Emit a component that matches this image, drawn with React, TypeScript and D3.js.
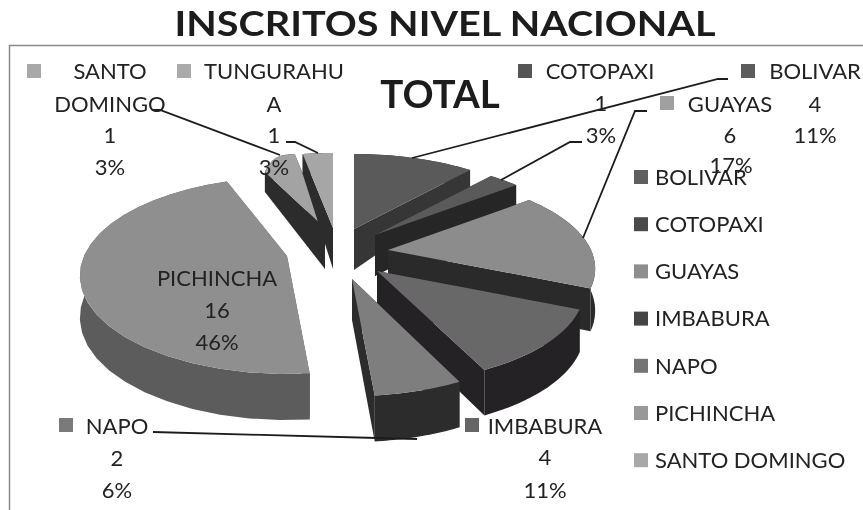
import React from "react";
import * as d3 from "d3";

const categories = ["BOLIVAR", "COTOPAXI", "GUAYAS", "IMBABURA", "NAPO", "PICHINCHA", "SANTO DOMINGO", "TUNGURAHUA"];
const values = [4, 1, 6, 4, 2, 16, 1, 1];
const percents = ["11%", "3%", "17%", "11%", "6%", "46%", "3%", "3%"];
const topColors = ["#5a5a5a", "#5a5a5a", "#8c8c8c", "#686868", "#7e7e7e", "#8f8f8f", "#a3a3a3", "#a6a6a6"];
const sideColors = ["#363636", "#262626", "#2a2a2a", "#252225", "#2c2c2c", "#5c5c5c", "#2c2c2c", "#2c2c2c"];
const legendColors = ["#5f5f5f", "#4a4a4a", "#8e8e8e", "#454545", "#757575", "#999999", "#a8a8a8"];
const legendItems = categories.slice(0, 7);

// layout: wedge tips relative to the un-exploded pie centre, per-slice shape tweaks
const centre = [345, 255];
const explode = [[9, -26], [30, -20], [43, -5], [32, 16], [7, 24], [-58, 1], [-20, -27], [-12, -27]];
const ryScale = [1, 1, 1, 1, 1.04, 1.05, 1, 1];
const rimDip = [0, 0, 0, 0, 0, 0, 15, 0];
const paintOrder = [0, 6, 7, 5, 1, 2, 3, 4];
const R = 203, Ry = 90, K = 0.2;

const depth = d3.scaleLinear().domain([-1, -0.6, 0, 1]).range([20, 20, 41, 46]);
const arcs = d3.pie<number>().sort(null)(values);

const proj = (i: number, a: number, r = 1) => {
  const u = Math.sin(a) * r, v = -Math.cos(a) * r;
  const s = 1 / (1 - K * v);
  return {
    x: centre[0] + explode[i][0] + R * u * s,
    y: centre[1] + explode[i][1] + Ry * ryScale[i] * v * s,
    d: depth(v),
  };
};
const line = d3.line<{ x: number; y: number }>().x(p => p.x).y(p => p.y);
const sample = (a0: number, a1: number) => d3.range(0, 25).map(t => a0 + ((a1 - a0) * t) / 24);

function Slice({ i }: { i: number }) {
  const { startAngle: a0, endAngle: a1 } = arcs[i];
  const tip = proj(i, 0, 0);
  const rim = sample(a0, a1).map((a, t) => {
    const p = proj(i, a);
    return { ...p, y: p.y + rimDip[i] * Math.pow(1 - t / 24, 4) };
  });
  const down = (p: { x: number; y: number; d: number }) => ({ x: p.x, y: p.y + p.d, d: p.d });
  const cut = (p: any) => line([p, tip, down(tip), down(p)]) + "Z";
  const outer = line([...rim, ...rim.slice().reverse().map(down)]) + "Z";
  const top = line([tip, ...rim]) + "Z";
  return (
    <g>
      <path d={cut(rim[0])} fill={sideColors[i]} />
      <path d={cut(rim[24])} fill={sideColors[i]} />
      <path d={outer} fill={sideColors[i]} />
      <path d={top} fill={topColors[i]} />
    </g>
  );
}

const font = "Lato, 'Open Sans', sans-serif";
const ink = "#222";
const T = ({ x, y, children, anchor = "middle", size = 22 }: any) => (
  <text x={x} y={y} dy="0.35em" textAnchor={anchor} fontSize={size} fill={ink} fontFamily={font}>{children}</text>
);
const Sw = ({ x, y, c }: any) => <rect x={x - 7} y={y - 7} width={14} height={14} fill={c} />;

const leaders = [
  [[152, 110], [160, 110], [280, 155]],
  [[286, 142], [295, 142], [318, 153]],
  [[728, 79], [718, 79], [412, 158]],
  [[582, 142], [570, 142], [501, 180]],
  [[647, 111], [635, 111], [583, 238]],
  [[153, 432], [377, 438], [417, 439]],
];

export default function App() {
  return (
    <svg width={863} height={510} style={{ position: "absolute", left: 0, top: 0, filter: "blur(0.4px)" }}>
      <rect width={863} height={510} fill="#fff" />
      <path d="M9.5 510V45.5H863" fill="none" stroke="#8a8a8a" strokeWidth={1.5} />
      <text x={445} y={36} textAnchor="middle" fontSize={35} textLength={541} lengthAdjust="spacingAndGlyphs" fontWeight={700} fill="#1c1c1c" fontFamily={font}>INSCRITOS NIVEL NACIONAL</text>
      <text x={440} y={108} textAnchor="middle" fontSize={38.5} fontWeight={700} fill="#1c1c1c" fontFamily={font}>TOTAL</text>

      {paintOrder.map(i => <Slice key={i} i={i} />)}

      {leaders.map((l, i) => (
        <path key={i} d={d3.line()(l as any) as string} fill="none" stroke="#1c1c1c" strokeWidth={1.8} />
      ))}

      <Sw x={34} y={71} c="#a8a8a8" />
      <T x={110} y={71}>SANTO</T>
      <T x={110} y={104}>DOMINGO</T>
      <T x={110} y={135}>{values[6]}</T>
      <T x={110} y={167}>{percents[6]}</T>

      <Sw x={184} y={71} c="#aaaaaa" />
      <T x={274} y={71}>TUNGURAHU</T>
      <T x={274} y={104}>A</T>
      <T x={274} y={135}>{values[7]}</T>
      <T x={274} y={167}>{percents[7]}</T>

      <Sw x={525} y={71} c="#555555" />
      <T x={600} y={71}>{categories[1]}</T>
      <T x={601} y={103}>{values[1]}</T>
      <T x={601} y={135}>{percents[1]}</T>

      <Sw x={748} y={71} c="#5c5c5c" />
      <T x={815} y={71}>{categories[0]}</T>
      <T x={815} y={104}>{values[0]}</T>
      <T x={815} y={135}>{percents[0]}</T>

      <Sw x={667} y={103} c="#a0a0a0" />
      <T x={730} y={104}>{categories[2]}</T>
      <T x={730} y={135}>{values[2]}</T>
      <T x={731} y={165}>{percents[2]}</T>

      <Sw x={472} y={425} c="#666666" />
      <T x={545} y={426}>{categories[3]}</T>
      <T x={545} y={457}>{values[3]}</T>
      <T x={545} y={490}>{percents[3]}</T>

      <Sw x={66} y={425} c="#7a7a7a" />
      <T x={117} y={426}>{categories[4]}</T>
      <T x={117} y={458}>{values[4]}</T>
      <T x={117} y={490}>{percents[4]}</T>

      <T x={217} y={278}>{categories[5]}</T>
      <T x={217} y={310}>{values[5]}</T>
      <T x={217} y={342}>{percents[5]}</T>

      {legendItems.map((c, i) => {
        const y = 177 + i * 47.2;
        return (
          <g key={c}>
            <Sw x={641} y={y} c={legendColors[i]} />
            <T x={655} y={y} anchor="start">{c}</T>
          </g>
        );
      })}
    </svg>
  );
}
